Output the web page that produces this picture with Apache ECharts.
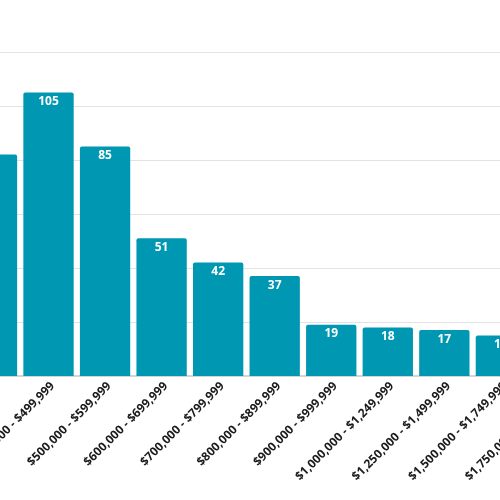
<!DOCTYPE html>
<html>
<head>
<meta charset="utf-8">
<script src="https://cdn.jsdelivr.net/npm/echarts@6/dist/echarts.min.js"></script>
<style>
html,body{margin:0;padding:0;background:#fff;}
#chart{width:500px;height:500px;}
</style>
</head>
<body>
<div id="chart"></div>
<script>
const categories = [
  "$300,000 - $399,999",
  "$400,000 - $499,999",
  "$500,000 - $599,999",
  "$600,000 - $699,999",
  "$700,000 - $799,999",
  "$800,000 - $899,999",
  "$900,000 - $999,999",
  "$1,000,000 - $1,249,999",
  "$1,250,000 - $1,499,999",
  "$1,500,000 - $1,749,999",
  "$1,750,000 - $1,999,999"
];
const counts = [82, 105, 85, 51, 42, 37, 19, 18, 17, 15, 12];
const yMin = 0, yMax = 120, yStep = 20;

const chart = echarts.init(document.getElementById('chart'));
chart.setOption({
  animation: false,
  grid: {
    left: -36.3, right: -85.7, top: 52, bottom: 124,
    containLabel: false,
    outerBoundsMode: 'none'
  },
  xAxis: {
    type: 'category',
    data: categories,
    axisTick: { show: false },
    axisLine: { lineStyle: { color: '#d4d4d4', width: 2 } },
    axisLabel: {
      rotate: 45,
      interval: 0,
      margin: 4,
      verticalAlign: 'top',
      fontFamily: 'Open Sans',
      fontSize: 12,
      fontWeight: 'bold',
      color: '#1a1a1a'
    }
  },
  yAxis: {
    type: 'value',
    min: yMin, max: yMax, interval: yStep,
    axisLabel: { show: false },
    axisLine: { show: false },
    axisTick: { show: false },
    splitLine: { lineStyle: { color: '#e3e3e3', width: 1 } }
  },
  series: [{
    type: 'bar',
    data: counts,
    barCategoryGap: '11%',
    itemStyle: { color: '#0097b2', borderRadius: [2, 2, 0, 0] },
    label: {
      show: true,
      position: 'insideTop',
      distance: 3,
      color: '#fff',
      fontFamily: 'Open Sans',
      fontWeight: 'bold',
      fontSize: 12
    }
  }]
});
</script>
</body>
</html>
